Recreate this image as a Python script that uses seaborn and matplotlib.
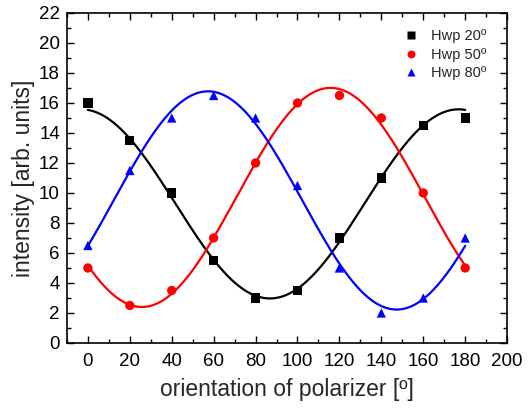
import numpy as np
import pandas as pd
import matplotlib
matplotlib.use("Agg")
import matplotlib.pyplot as plt
from matplotlib.ticker import MultipleLocator
import seaborn as sns

angles = [0, 20, 40, 60, 80, 100, 120, 140, 160, 180]
hwp20 = [16, 13.5, 10, 5.5, 3, 3.5, 7, 11, 14.5, 15]
hwp50 = [5, 2.5, 3.5, 7, 12, 16, 16.5, 15, 10, 5]
hwp80 = [6.5, 11.5, 15, 16.5, 15, 10.5, 5, 2, 3, 7]
series_names = ["Hwp 20º", "Hwp 50º", "Hwp 80º"]
series_vals = [hwp20, hwp50, hwp80]
colors = ["black", "red", "blue"]
markers = ["s", "o", "^"]

sns.set_theme(style="ticks")
plt.rcParams['font.family'] = ['Liberation Sans', 'DejaVu Sans']

rows = []
for name, vals in zip(series_names, series_vals):
    for a, v in zip(angles, vals):
        rows.append({"angle": a, "intensity": v, "series": name})
df = pd.DataFrame(rows)

# least-squares sinusoidal fits (period 180 deg) from the data
xf = np.linspace(0, 180, 361)
fit_rows = []
th = np.radians(2 * np.array(angles, dtype=float))
A = np.column_stack([np.ones_like(th), np.cos(th), np.sin(th)])
for name, vals in zip(series_names, series_vals):
    coef, *_ = np.linalg.lstsq(A, np.array(vals, dtype=float), rcond=None)
    t = np.radians(2 * xf)
    yf = coef[0] + coef[1] * np.cos(t) + coef[2] * np.sin(t)
    for a, v in zip(xf, yf):
        fit_rows.append({"angle": a, "intensity": v, "series": name})
fit_df = pd.DataFrame(fit_rows)

fig = plt.figure(figsize=(5.31, 4.12), dpi=100)
ax = fig.add_axes([0.126, 0.1675, 0.829, 0.801])

palette = dict(zip(series_names, colors))
sns.lineplot(data=fit_df, x="angle", y="intensity", hue="series", palette=palette,
             linewidth=1.6, legend=False, ax=ax, sort=False, estimator=None)
sns.scatterplot(data=df, x="angle", y="intensity", hue="series", style="series",
                palette=palette, markers=dict(zip(series_names, markers)),
                s=45, edgecolor="none", ax=ax, zorder=3)

ax.set_xlim(-10, 200)
ax.set_ylim(0, 22)
ax.xaxis.set_major_locator(MultipleLocator(20))
ax.xaxis.set_minor_locator(MultipleLocator(10))
ax.yaxis.set_major_locator(MultipleLocator(2))
ax.yaxis.set_minor_locator(MultipleLocator(1))
ax.tick_params(which="both", direction="in", top=True, right=True, colors="black",
               labelsize=13.5, width=1.0)
ax.tick_params(axis="x", which="major", pad=7)
ax.tick_params(axis="y", which="major", pad=5)
ax.tick_params(which="major", length=5)
ax.tick_params(which="minor", length=3)
for s in ax.spines.values():
    s.set_linewidth(1.2)
    s.set_color("black")

ax.set_xlabel("orientation of polarizer [º]", fontsize=16.5, labelpad=6)
ax.set_ylabel("intensity [arb. units]", fontsize=16.5, labelpad=3)

leg = ax.legend(loc="upper left", frameon=False, fontsize=10.5, handletextpad=0.9,
                handlelength=1.0, borderaxespad=0.0, borderpad=0.0,
                labelspacing=0.3, markerscale=0.85,
                bbox_to_anchor=(0.765, 0.95))
leg.set_title(None)

fig.savefig("out.png", dpi=100)
